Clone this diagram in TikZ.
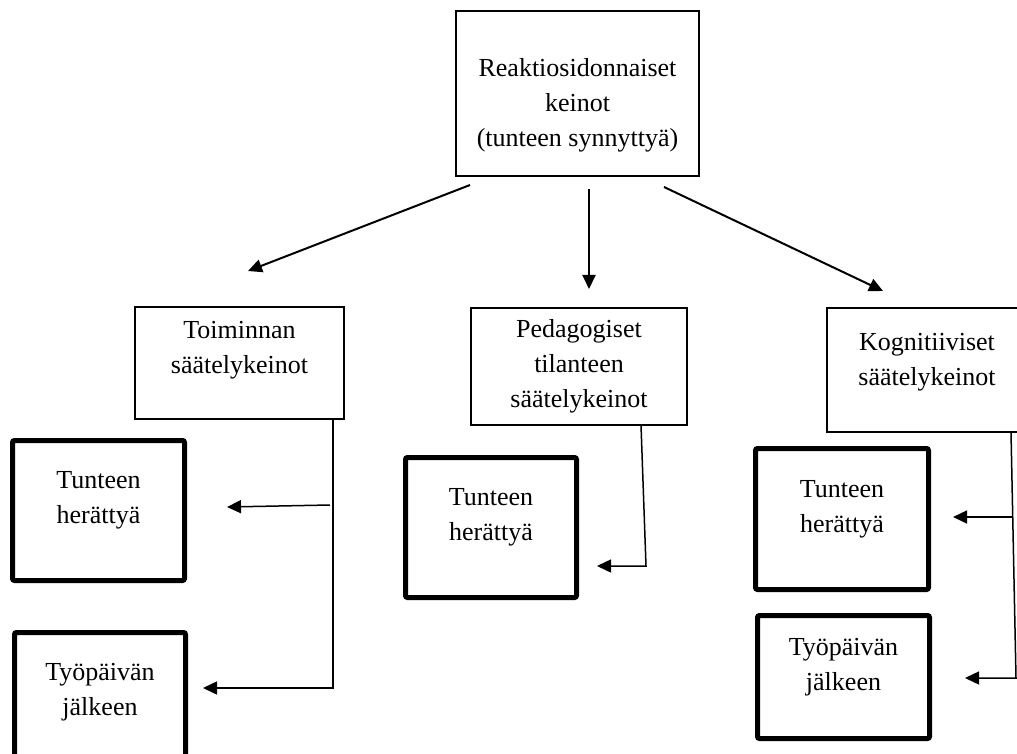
\documentclass[tikz,border=0pt]{standalone}
\usepackage{fontspec}
\setmainfont{Liberation Serif}
\usetikzlibrary{arrows.meta}

\begin{document}
\begin{tikzpicture}[x=0.5pt, y=-0.5pt,
    font=\fontsize{13pt}{17.5pt}\selectfont,
    box/.style={draw, line width=1pt, align=center, inner sep=0pt, outer sep=0pt},
    heavy/.style={draw, line width=2.5pt, align=center, inner sep=0pt, outer sep=0pt, rounded corners=1pt},
    arr/.style={line width=1pt, -{Triangle[length=7pt, width=6.5pt]}},
    link/.style={line width=0.75pt, -{Triangle[length=7pt, width=6.5pt]}}]
  \useasboundingbox (0, 0) rectangle (1017, 754);

  % top level
  \node[box, minimum width=121.5pt, minimum height=82.5pt] (react) at (577.5, 93.5)
    {\mbox{}\\[2.9pt]Reaktiosidonnaiset\\keinot\\(tunteen synnyttyä)};

  % second level
  \node[box, minimum width=104.5pt, minimum height=56pt] (act) at (239.5, 363)
    {Toiminnan\\säätelykeinot\\[-1.7pt]\mbox{}};
  \node[box, minimum width=108pt, minimum height=58.5pt] (ped) at (579, 366.5)
    {Pedagogiset\\tilanteen\\säätelykeinot};
  \node[box, minimum width=100pt, minimum height=62pt] (cog) at (927, 370)
    {Kognitiiviset\\säätelykeinot\\[-7.2pt]\mbox{}};

  % third level
  \node[heavy, minimum width=86pt, minimum height=70pt] (actA) at (98.5, 510.5)
    {Tunteen\\herättyä\\[-4.7pt]\mbox{}};
  \node[heavy, minimum width=85.5pt, minimum height=70pt] (actB) at (100, 702.5)
    {Työpäivän\\jälkeen\\[-4.7pt]\mbox{}};
  \node[heavy, minimum width=85.5pt, minimum height=70pt] (pedA) at (491, 527.5)
    {Tunteen\\herättyä\\[-4.7pt]\mbox{}};
  \node[heavy, minimum width=86.5pt, minimum height=70.5pt] (cogA) at (842, 519)
    {Tunteen\\herättyä\\[-4.7pt]\mbox{}};
  \node[heavy, minimum width=86pt, minimum height=61.5pt] (cogB) at (843.5, 677)
    {Työpäivän\\jälkeen\\[-4.7pt]\mbox{}};

  % arrows from the top box
  \draw[arr] ([shift={(-107.5, 9)}]react.south) -- ([shift={(8.5, -36)}]act.north);
  \draw[arr] ([shift={(11.5, 13)}]react.south) -- ([shift={(10, -19)}]ped.north);
  \draw[arr] ([shift={(86.5, 11)}]react.south) -- ([shift={(-44, -17)}]cog.north);

  % links to the third level
  \draw[link] ([shift={(-11, 0)}]act.south east) |- ([shift={(17.5, -14.5)}]actB.east);
  \draw[link] ([shift={(-14, 86)}]act.south east) -- ([shift={(42.5, -3.5)}]actA.east);

  \draw[link] ([shift={(-46, 0)}]ped.south east) -- ([shift={(-41, 141)}]ped.south east)
    -- ([shift={(20.5, 38.5)}]pedA.east);

  \draw[link] ([shift={(84, 0)}]cog.south) -- ([shift={(89, 246)}]cog.south)
    -- ([shift={(35.5, 1)}]cogB.east);
  \draw[link] ([shift={(86, 85)}]cog.south) -- ([shift={(24.5, -2)}]cogA.east);
\end{tikzpicture}
\end{document}
